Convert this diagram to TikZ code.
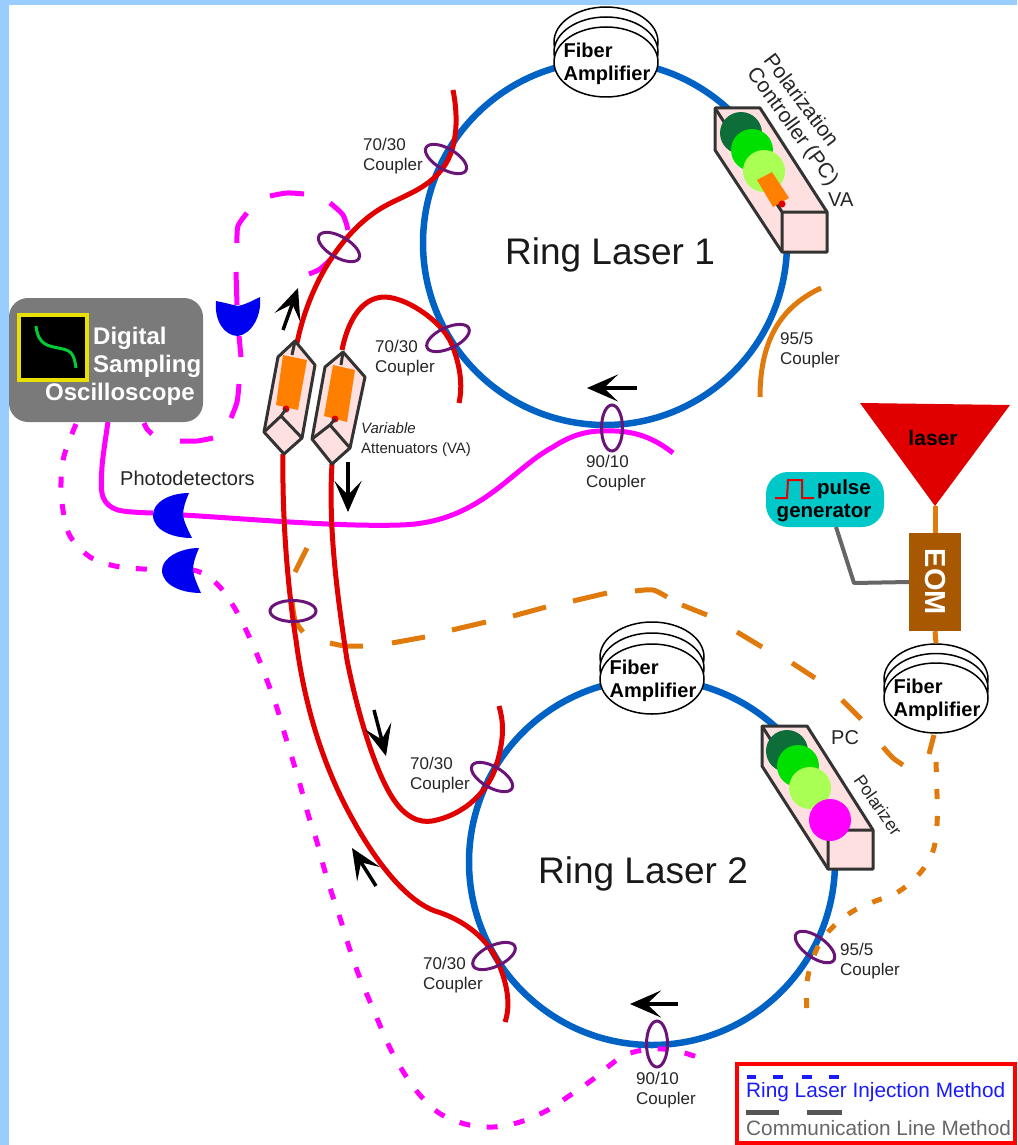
\documentclass[tikz,border=0pt]{standalone}
\usepackage{fontspec}
\setmainfont{Liberation Sans}
\usetikzlibrary{shapes.geometric,arrows.meta}
\definecolor{bandblue}{HTML}{99CCFF}
\definecolor{ringblue}{HTML}{0062C4}
\definecolor{fibrered}{HTML}{E00000}
\definecolor{fibreorange}{HTML}{E07A0C}
\definecolor{couplerpurple}{HTML}{6A1478}
\definecolor{detblue}{HTML}{0000F0}
\definecolor{hotmag}{HTML}{FF00FF}
\definecolor{prismedge}{HTML}{333333}
\definecolor{prismfill}{HTML}{FFE0E0}
\definecolor{vaorange}{HTML}{FF8000}
\definecolor{pcdark}{HTML}{0E6E3A}
\definecolor{pcmid}{HTML}{00E000}
\definecolor{pclight}{HTML}{AAFF55}
\definecolor{scopegray}{HTML}{7A7A7A}
\definecolor{tealbox}{HTML}{00C8C8}
\definecolor{eombrown}{HTML}{A85800}
\definecolor{legblue}{HTML}{1A1AFF}
\definecolor{leggray}{HTML}{555555}
\definecolor{scopeyellow}{HTML}{E8E000}
\definecolor{scopegreen}{HTML}{00CC33}
\newcommand{\fs}[2]{\fontsize{#1}{#2}\selectfont}
\tikzset{
 ring/.style={draw=ringblue,line width=6.5pt},
 redfibre/.style={draw=fibrered,line width=5pt},
 orangefibre/.style={draw=fibreorange,line width=5pt},
 magfibre/.style={draw=hotmag,line width=5pt},
 coupler/.style={draw=couplerpurple,line width=3pt,ellipse,inner sep=0pt,minimum width=46pt,minimum height=21pt},
 prism/.style={draw=prismedge,line width=3pt,fill=prismfill,line join=round},
 prismline/.style={draw=prismedge,line width=3pt,line join=round},
 ampbody/.style={ellipse,draw=black,line width=1.5pt,fill=white,inner sep=0pt,minimum width=104pt,minimum height=70pt},
 amptext/.style={font=\bfseries\fs{20}{23},align=left,inner sep=0pt},
 small/.style={font=\fs{17}{20},align=left,inner sep=0pt,text=black!85},
 flowarrow/.style={draw=black,line width=3.5pt,-{Stealth[length=31pt,width=27pt,inset=14pt]}},
 ball/.style={circle,inner sep=0pt,minimum size=42pt},
}
\newcommand{\fiberamp}[4]{%
 \node[ampbody] (#1c) at (#2,#3-2*#4) {};
 \node[ampbody] (#1b) at (#2,#3-#4) {};
 \node[ampbody] (#1)  at (#2,#3) {};
 \node[amptext] (#1t) at (#2+1,#3+2) {Fiber\\Amplifier};
}
\begin{document}
\begin{tikzpicture}[x=1pt,y=-1pt]
\useasboundingbox (0,0) rectangle (1017,1145);
\fill[white] (0,0) rectangle (1017,1145);
\fill[bandblue] (0,0) rectangle (9,1145);
\fill[bandblue] (0,0) rectangle (1017,5);

% rings
\node[circle,ring,inner sep=0pt,minimum size=364pt] (ring1) at (605,243) {};
\node[circle,ring,inner sep=0pt,minimum size=366pt] (ring2) at (652,862) {};

% orange fibres
\draw[orangefibre] (821,288) .. controls (785,305) and (760,335) .. (760,397);
\draw[orangefibre] (307,548) -- (295,572);
\draw[orangefibre] plot[smooth] coordinates {(292,600) (295,620) (303,632)};
\draw[orangefibre] plot[smooth] coordinates {(330,643) (345,646) (363,646)};
\draw[orangefibre] (392,643) -- (425,637) (452,630) -- (486,622) (513,616) -- (546,607) (573,601) -- (607,593);
\draw[orangefibre] plot[smooth] coordinates {(635,591) (653,590) (667,597)};
\draw[orangefibre] (682,605) -- (707,615) (737,632) -- (762,647) (792,663) -- (815,678) (842,700) -- (861,719);
\draw[orangefibre] plot[smooth] coordinates {(883,747) (893,758) (903,765)};
\draw[orangefibre] (934,735) -- (929,754);
\draw[orangefibre,dash pattern=on 10pt off 17pt] plot[smooth,tension=.6] coordinates {(936,762) (937,795) (937,824) (933,851) (920,873) (898,892) (873,902) (850,913) (828,932) (815,953) (807,982) (807,1014)};

% magenta fibres
\draw[magfibre] plot[smooth,tension=.55] coordinates {(108,422) (102,467) (103,497) (118,510) (153,513)};
\draw[magfibre] (183,515) .. controls (250,519) and (340,527) .. (400,525) .. controls (480,523) and (510,470) .. (553,447) .. controls (570,436) and (585,431) .. (603,431) .. controls (630,430) and (650,435) .. (673,453);
\draw[magfibre] (237,305) -- (236,272);
\draw[magfibre] plot[smooth] coordinates {(237,243) (238,226) (247,213)};
\draw[magfibre] plot[smooth] coordinates {(270,196) (287,193) (304,194)};
\draw[magfibre] plot[smooth] coordinates {(330,203) (343,215) (348,230)};
\draw[magfibre] plot[smooth] coordinates {(332,258) (320,269) (309,274)};
\draw[magfibre] (239,336) -- (241,357);
\draw[magfibre] plot[smooth] coordinates {(239,384) (237,402) (231,418)};
\draw[magfibre] plot[smooth] coordinates {(213,438) (197,441) (180,441)};
\draw[magfibre] plot[smooth] coordinates {(152,434) (147,429) (144,423)};
\draw[magfibre,dash pattern=on 11pt off 16.5pt] plot[smooth,tension=.55] coordinates {(76,424) (64,456) (61,483) (63,510) (70,536) (90,557) (115,566) (143,569) (169,570) (197,571) (218,585) (234,607) (247,632) (258,657) (268,683) (277,708) (285,735) (293,761) (301,788) (308,814) (317,842) (324,868) (332,894) (341,921) (349,947) (358,973) (368,997) (379,1023) (390,1048) (404,1073) (419,1094) (439,1113) (465,1124) (493,1127) (520,1122) (546,1111) (569,1096) (592,1080) (623,1056) (652,1049) (677,1051) (703,1059)};

% red fibres
\draw[redfibre] (453,90) .. controls (458,115) and (458,145) .. (445,165) .. controls (430,188) and (405,195) .. (385,206) .. controls (345,228) and (310,280) .. (297,343);
\draw[redfibre] (342,350) .. controls (348,320) and (362,297) .. (385,297) .. controls (410,298) and (445,325) .. (452,345) .. controls (460,365) and (463,385) .. (459,403);
\draw[redfibre] (283,454) .. controls (282,520) and (288,590) .. (296,640) .. controls (305,710) and (325,770) .. (353,820) .. controls (375,860) and (405,900) .. (435,911) .. controls (465,920) and (490,940) .. (500,967) .. controls (507,985) and (511,1005) .. (505,1022);
\draw[redfibre] (332,464) .. controls (328,530) and (338,600) .. (347,660) .. controls (358,715) and (375,770) .. (392,797) .. controls (405,818) and (420,823) .. (432,821) .. controls (465,815) and (490,790) .. (497,763) .. controls (505,735) and (503,720) .. (499,706);

% attenuators
\draw[prism] (295,341) -- (315,365) -- (302,438) -- (284,454) -- (264,432) -- (278,357) -- cycle;
\fill[vaorange] (283,355) -- (307,360) -- (298,410) -- (276,405) -- cycle;
\fill[fibrered] (286,409) circle (3.5);
\draw[prismline] (295,341) -- (292,355);
\draw[prismline] (264,432) -- (281,416) -- (302,438) (281,416) -- (286,409);
\draw[prism] (343,352) -- (365,377) -- (350,448) -- (332,464) -- (312,439) -- (325,367) -- cycle;
\fill[vaorange] (333,365) -- (355,370) -- (347,422) -- (324,416) -- cycle;
\fill[fibrered] (335,419) circle (3.5);
\draw[prismline] (343,352) -- (341,365);
\draw[prismline] (312,439) -- (330,425) -- (350,448) (330,425) -- (335,419);

% polarization controllers
\draw[prism] (715,108) -- (760,108) -- (827,212) -- (827,252) -- (782,252) -- (715,150) -- cycle;
\draw[prismline] (715,108) -- (782,212) -- (827,212) (782,212) -- (782,252);
\node[ball,fill=pcdark] (pc1a) at (741,133) {};
\node[ball,fill=pcmid] (pc1b) at (752,150) {};
\node[ball,fill=pclight] (pc1c) at (764,171) {};
\fill[vaorange] (757,180) -- (772,172) -- (789,198) -- (773,207) -- cycle;
\fill[fibrered] (782,204) circle (3.5);

\draw[prism] (762,726) -- (807,726) -- (873,830) -- (873,869) -- (828,869) -- (762,766) -- cycle;
\draw[prismline] (762,726) -- (828,830) -- (873,830) (828,830) -- (828,869);
\node[ball,fill=pcdark] (pc2a) at (787,751) {};
\node[ball,fill=pcmid] (pc2b) at (798,766) {};
\node[ball,fill=pclight] (pc2c) at (810,788) {};
\node[ball,fill=hotmag] (pc2d) at (830,820) {};

% fiber amplifiers
\fiberamp{ampA}{606}{62}{10}
\fiberamp{ampB}{652}{679}{11}

% detectors
\fill[detblue] (216,301) .. controls (226,303) and (233,305) .. (238,306) .. controls (244,305) and (252,301) .. (260,297) .. controls (262,315) and (252,334) .. (238,336) .. controls (224,336) and (214,320) .. (216,301) -- cycle;
\fill[detblue] (189,493) .. controls (186,500) and (183,508) .. (183,515) .. controls (184,522) and (188,530) .. (192,538) .. controls (172,538) and (153,530) .. (153,515) .. controls (153,502) and (170,493) .. (189,493) -- cycle;
\fill[detblue] (199,548) .. controls (196,555) and (193,563) .. (193,570) .. controls (194,578) and (198,586) .. (201,593) .. controls (181,593) and (162,585) .. (162,570) .. controls (162,558) and (180,548) .. (199,548) -- cycle;

% oscilloscope
\fill[scopegray,rounded corners=19pt] (9,298) rectangle (203,422);
\draw[draw=scopeyellow,line width=3.5pt,fill=black] (19,315) rectangle (87,380);
\draw[draw=scopegreen,line width=3pt] (36,326) .. controls (38,346) and (50,346) .. (58,348) .. controls (70,350) and (74,352) .. (76,368);
\node[font=\bfseries\fs{24}{28},text=white,anchor=west,inner sep=0pt] (dso1) at (93,338) {Digital};
\node[font=\bfseries\fs{24}{28},text=white,anchor=west,inner sep=0pt] (dso2) at (93,366) {Sampling};
\node[font=\bfseries\fs{24}{28},text=white,anchor=west,inner sep=0pt] (dso3) at (45,394) {Oscilloscope};

% laser, EOM, pulse generator
\fill[fibrered] (860,403) -- (1010,405) -- (935,506) -- cycle;
\coordinate (lasertip) at (935,506);
\node[font=\bfseries\fs{21}{24},inner sep=0pt] (laser) at (933,438) {laser};
\node[fill=eombrown,minimum width=52pt,minimum height=98pt,inner sep=0pt] (eom) at (935,582) {};
\node[font=\bfseries\fs{29}{32},text=white,rotate=-90,inner sep=0pt] (eomt) at (935,582) {EOM};
\draw[orangefibre] (lasertip) -- (eom.north);
\fiberamp{ampC}{936}{698}{9.5}
\draw[orangefibre] (eom.south) -- (ampCc.north);
\node[fill=tealbox,rounded corners=22pt,minimum width=118pt,minimum height=55pt,inner sep=0pt] (pulse) at (825,499.5) {};
\draw[draw=fibrered,line width=2pt] (775,498) -- (787,498) -- (788,480) -- (802,480) -- (802,498) -- (814,498);
\node[font=\bfseries\fs{20.5}{24},inner sep=0pt,anchor=west] (pulset) at (817,489) {pulse};
\node[font=\bfseries\fs{20.5}{24},inner sep=0pt] (gent) at (824,513) {generator};
\coordinate (gpbend) at (854,583);
\draw[draw=black!60,line width=4pt,line join=round] (836,527) -- (gpbend) -- (eom.west);

% couplers
\node[coupler,rotate=-30] (c1) at (446,159) {};
\node[coupler,rotate=-30] (c2) at (339,247) {};
\node[coupler,rotate=25] (c3) at (448,338) {};
\node[coupler,rotate=90] (c4) at (612,428) {};
\node[coupler] (c5) at (293,611) {};
\node[coupler,rotate=-30] (c6) at (492,777) {};
\node[coupler,rotate=25] (c7) at (494,956) {};
\node[coupler,rotate=-35] (c8) at (815,947) {};
\node[coupler,rotate=90] (c9) at (657,1044) {};

% arrows
\draw[flowarrow] (283,330) -- (298,288);
\draw[flowarrow] (348,462) -- (348,512);
\draw[flowarrow] (637,388) -- (587,388);
\draw[flowarrow] (678,1004) -- (630,1004);
\draw[flowarrow] (374,710) -- (386,756);
\draw[flowarrow] (376,886) -- (352,848);

% labels
\node[font=\fs{37}{40},inner sep=0pt,text=black!90] (r1) at (610,255) {Ring Laser 1};
\node[font=\fs{37}{40},inner sep=0pt,text=black!90] (r2) at (643,874) {Ring Laser 2};
\node[small,anchor=west] (l1) at (363,156) {70/30\\Coupler};
\node[small,anchor=west] (l2) at (375,358) {70/30\\Coupler};
\node[small,anchor=west] (l3) at (780,350) {95/5\\Coupler};
\node[small,anchor=west] (l4) at (586,473) {90/10\\Coupler};
\node[small,anchor=west] (l5) at (410,775) {70/30\\Coupler};
\node[small,anchor=west] (l6) at (423,975) {70/30\\Coupler};
\node[small,anchor=west] (l7) at (840,961) {95/5\\Coupler};
\node[small,anchor=west] (l8) at (636,1090) {90/10\\Coupler};
\node[font=\fs{15}{20},align=left,inner sep=0pt,anchor=west,text=black!85] (l9) at (361,440) {\itshape Variable\\Attenuators (VA)};
\node[font=\fs{20}{22},inner sep=0pt,anchor=west,text=black!85] (l10) at (120,478) {Photodetectors};
\node[font=\fs{20}{22},inner sep=0pt,anchor=west,text=black!85] (l11) at (828,200) {VA};
\node[font=\fs{20}{22},inner sep=0pt,anchor=west,text=black!85] (l12) at (831,738) {PC};
\node[font=\fs{21}{22},inner sep=0pt,rotate=-53,text=black!85] (l13) at (802,100) {Polarization};
\node[font=\fs{21}{22},inner sep=0pt,rotate=-54,text=black!85] (l14) at (792,127) {Controller (PC)};
\node[font=\fs{17.5}{20},inner sep=0pt,rotate=-55,text=black!85] (l15) at (878,805) {Polarizer};

% legend
\draw[draw=red,line width=4pt,fill=white] (737,1064) rectangle (1015,1143);
\draw[draw=legblue,line width=3.5pt] (747,1077) -- (756,1077) (773,1077) -- (783,1077) (802,1077) -- (812,1077) (829,1077) -- (839,1077);
\node[font=\fs{20.8}{24},text=legblue,inner sep=0pt,anchor=west] (leg1) at (746,1092) {Ring Laser Injection Method};
\draw[draw=leggray,line width=5pt] (746,1112) -- (779,1112) (807,1112) -- (842,1112);
\node[font=\fs{20.8}{24},text=black!60,inner sep=0pt,anchor=west] (leg2) at (746,1128) {Communication Line Method};
\end{tikzpicture}
\end{document}
